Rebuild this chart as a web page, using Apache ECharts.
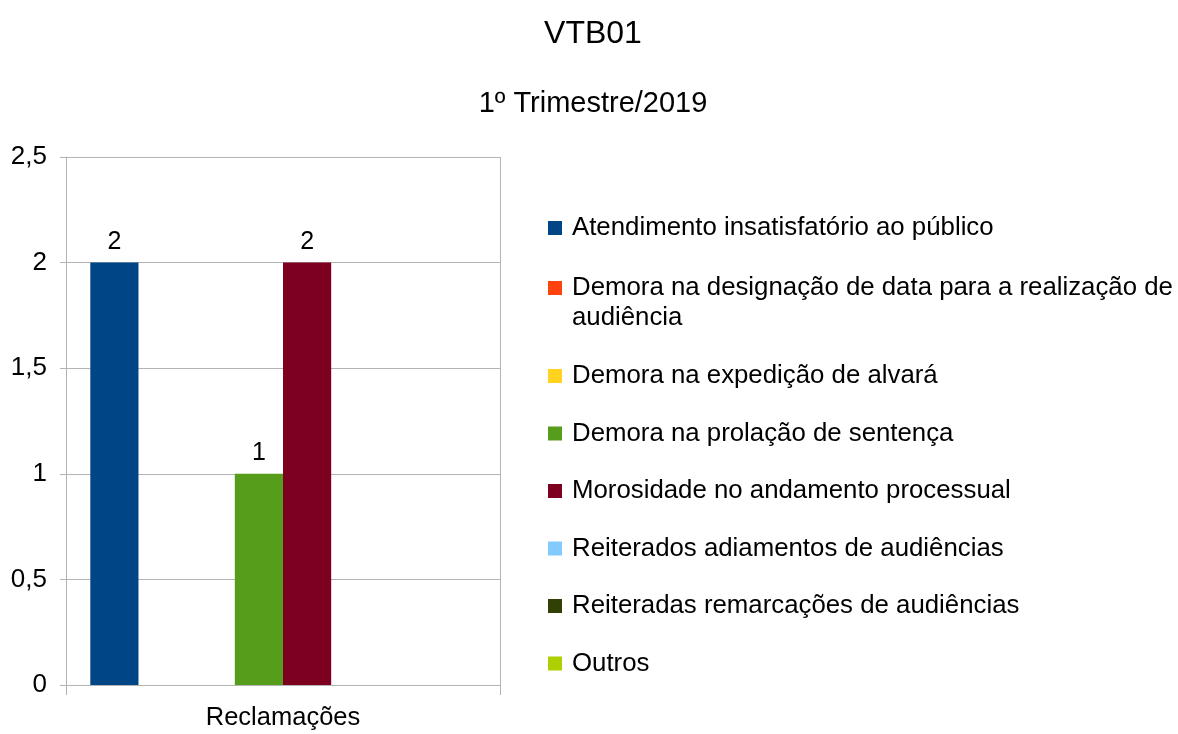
<!DOCTYPE html>
<html>
<head>
<meta charset="utf-8">
<script src="https://cdn.jsdelivr.net/npm/echarts@6/dist/echarts.min.js"></script>
<style>
  html, body { margin: 0; padding: 0; background: #fff; }
  #chart { width: 1178px; height: 734px; }
</style>
</head>
<body>
<div id="chart"></div>
<script>
const categories = ['Reclamações'];
const seriesNames = [
  'Atendimento insatisfatório ao público',
  'Demora na designação de data para a realização de audiência',
  'Demora na expedição de alvará',
  'Demora na prolação de sentença',
  'Morosidade no andamento processual',
  'Reiterados adiamentos de audiências',
  'Reiteradas remarcações de audiências',
  'Outros'
];
const seriesValues = [
  [2],
  [null],
  [null],
  [1],
  [2],
  [null],
  [null],
  [null]
];
const colors = ['#004586', '#ff420e', '#ffd320', '#579d1c', '#7e0021', '#83caff', '#314004', '#aecf00'];
const yTicks = [0, 0.5, 1, 1.5, 2, 2.5];

const FONT = '"Liberation Sans", Arial, sans-serif';
const WRAP_AT = 'realização de ';
const chart = echarts.init(document.getElementById('chart'), null, { renderer: 'canvas' });

const series = seriesNames.map(function (name, i) {
  return {
    name: name,
    type: 'bar',
    data: seriesValues[i],
    barGap: '0%',
    barCategoryGap: '11.2%',
    itemStyle: { color: colors[i] },
    label: {
      show: true,
      position: 'top',
      distance: 8,
      color: '#000',
      fontFamily: FONT,
      fontSize: 25,
      formatter: function (p) { return p.value == null ? '' : String(p.value).replace('.', ','); }
    }
  };
});

// legend split in blocks so the wrapped entry keeps its square on the first line;
// the wrapped remainder is drawn just below it as plain text
function legendBlock(names, top, gap) {
  return {
    orient: 'vertical',
    left: 548,
    top: top,
    padding: 0,
    itemWidth: 14,
    itemHeight: 14,
    itemGap: gap,
    icon: 'rect',
    data: names,
    formatter: function (name) {
      const k = name.indexOf(WRAP_AT);
      return k < 0 ? name : name.slice(0, k + WRAP_AT.length - 1);
    },
    textStyle: { fontFamily: FONT, fontSize: 25.8, color: '#000', lineHeight: 30, padding: [0, 0, 0, 5] }
  };
}
const wrapped = seriesNames[1];
const wrappedRest = wrapped.slice(wrapped.indexOf(WRAP_AT) + WRAP_AT.length);

const option = {
  backgroundColor: '#ffffff',
  animation: false,
  color: colors,
  title: [
    { text: 'VTB01', left: 588, textAlign: 'center', top: 13, textStyle: { fontFamily: FONT, fontSize: 32, fontWeight: 'normal', color: '#000' } },
    { text: '1º Trimestre/2019', left: 588, textAlign: 'center', top: 84, textStyle: { fontFamily: FONT, fontSize: 29, fontWeight: 'normal', color: '#000' } }
  ],
  legend: [
    legendBlock(seriesNames.slice(0, 1), 213, 0),
    legendBlock(seriesNames.slice(1, 2), 273, 0),
    legendBlock(seriesNames.slice(2), 361, 27.5)
  ],
  graphic: [{
    type: 'text',
    left: 572,
    top: 303,
    style: { text: wrappedRest, fontFamily: FONT, fontSize: 25.8, fill: '#000', lineHeight: 30 }
  }],
  grid: { left: 66, right: 678, top: 157, bottom: 49, containLabel: false },
  xAxis: {
    type: 'category',
    data: categories,
    axisLine: { lineStyle: { color: '#b3b3b3' } },
    axisTick: { show: true, length: 10, lineStyle: { color: '#b3b3b3' } },
    splitLine: { show: true, lineStyle: { color: '#b3b3b3' } },
    axisLabel: { fontFamily: FONT, fontSize: 25.5, color: '#000', margin: 20 }
  },
  yAxis: {
    type: 'value',
    min: yTicks[0],
    max: yTicks[yTicks.length - 1],
    interval: 0.5,
    axisLine: { show: true, lineStyle: { color: '#b3b3b3' } },
    axisTick: { show: true, length: 6, lineStyle: { color: '#b3b3b3' } },
    splitLine: { show: true, lineStyle: { color: '#b3b3b3' } },
    axisLabel: {
      fontFamily: FONT, fontSize: 26, color: '#000', margin: 19, padding: [4, 0, 0, 0],
      formatter: function (v) { return String(v).replace('.', ','); }
    }
  },
  series: series
};

chart.setOption(option);
</script>
</body>
</html>
